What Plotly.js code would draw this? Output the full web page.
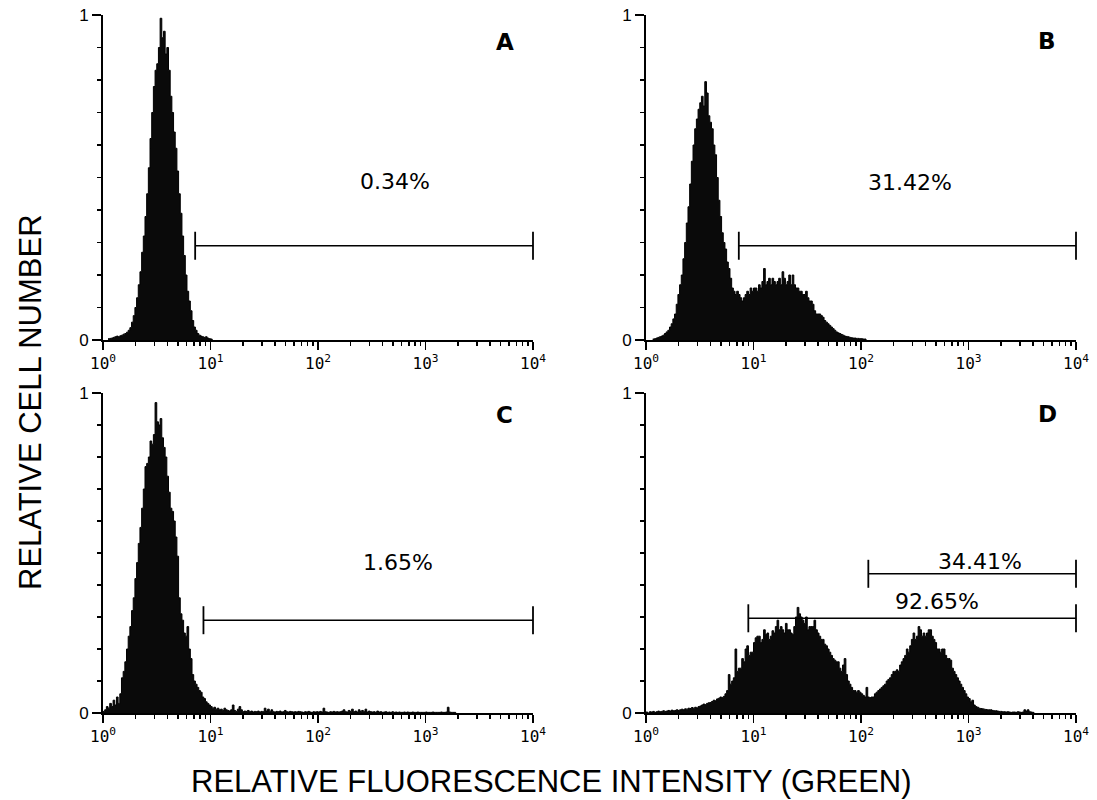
<!DOCTYPE html>
<html>
<head>
<meta charset="utf-8">
<script src="https://cdn.plot.ly/plotly-3.0.1.min.js"></script>
<style>html,body{margin:0;padding:0;background:#fff;}#chart{width:1097px;height:800px;}</style>
</head>
<body>
<div id="chart"></div>
<script>
// ---- Data (relative cell number per channel; 64 channels per decade, 10^0..10^4) ----
const CHANNELS_PER_DECADE = 64;
const panelLetters = ["A", "B", "C", "D"];
const xTickVals = [1, 10, 100, 1000, 10000];
const xTickText = ["10<sup>0</sup>", "10<sup>1</sup>", "10<sup>2</sup>", "10<sup>3</sup>", "10<sup>4</sup>"];

const startA = 3;
const countsA = [0.004,0.005,0.006,0.008,0.010,0.012,0.010,0.013,0.015,0.018,
  0.020,0.024,0.030,0.038,0.055,0.075,0.100,0.130,0.170,0.210,
  0.270,0.320,0.380,0.450,0.530,0.620,0.700,0.780,0.830,0.850,
  0.900,0.990,0.930,0.950,0.880,0.900,0.830,0.750,0.700,0.640,
  0.590,0.520,0.450,0.390,0.320,0.260,0.200,0.150,0.120,0.090,
  0.060,0.040,0.030,0.020,0.015,0.012,0.010,0.008,0.010,0.006,0.004,0.003];

const startB = 4;
const countsB = [0.003,0.004,0.006,0.008,0.010,0.012,0.015,
  0.020,0.025,0.030,0.040,0.050,0.065,0.080,0.110,0.140,0.170,
  0.200,0.250,0.300,0.360,0.410,0.480,0.550,0.600,0.650,0.680,
  0.710,0.730,0.750,0.720,0.795,0.760,0.690,0.670,0.650,0.600,
  0.570,0.500,0.430,0.380,0.330,0.300,0.280,0.240,0.220,0.190,
  0.160,0.150,0.140,0.150,0.140,0.130,0.120,0.130,0.140,0.150,
  0.140,0.160,0.150,0.160,0.160,0.150,0.170,0.160,0.180,0.220,
  0.170,0.180,0.190,0.170,0.190,0.180,0.170,0.180,0.190,0.170,
  0.210,0.190,0.170,0.180,0.200,0.170,0.200,0.170,0.160,0.160,
  0.150,0.150,0.140,0.140,0.150,0.130,0.120,0.120,0.110,0.090,
  0.080,0.080,0.080,0.075,0.070,0.060,0.055,0.050,0.045,0.040,
  0.035,0.030,0.025,0.022,0.020,0.017,0.015,0.012,0.011,0.010,
  0.008,0.007,0.006,0.006,0.005,0.005,0.004,0.004,0.003,0.003];

const startC = 0;
const countsC = [0.005,0.010,0.020,0.015,0.030,0.020,0.040,0.025,0.050,0.030,
  0.060,0.110,0.130,0.160,0.200,0.240,0.270,0.320,0.360,0.420,
  0.470,0.530,0.580,0.640,0.700,0.770,0.780,0.800,0.850,0.840,
  0.870,0.970,0.910,0.900,0.920,0.860,0.830,0.800,0.740,0.690,
  0.640,0.630,0.600,0.550,0.490,0.360,0.310,0.290,0.250,0.240,
  0.270,0.200,0.170,0.120,0.100,0.090,0.080,0.070,0.065,0.050,
  0.045,0.035,0.030,0.025,0.020,0.015,0.018,0.012,0.015,0.010,
  0.012,0.008,0.015,0.010,0.008,0.006,0.010,0.025,0.008,0.005,
  0.012,0.020,0.010,0.004,0.006,0.005,0.008,0.004,0.006,0.003,
  0.005,0.004,0.006,0.003,0.005,0.004,0.015,0.006,0.012,0.004,
  0.010,0.004,0.003,0.005,0.004,0.006,0.003,0.004,0.008,0.004,
  0.003,0.005,0.004,0.003,0.004,0.003,0.005,0.004,0.003,0.002,
  0.004,0.003,0.005,0.003,0.002,0.004,0.003,0.004,0.003,0.005,
  0.003,0.015,0.004,0.003,0.002,0.004,0.003,0.005,0.003,0.004,
  0.003,0.004,0.006,0.010,0.004,0.003,0.008,0.005,0.012,0.004,
  0.006,0.003,0.010,0.005,0.008,0.004,0.012,0.003,0.006,0.004,
  0.003,0.004,0.002,0.006,0.003,0.004,0.002,0.003,0.004,0.002,
  0.003,0.002,0.004,0.002,0.003,0.002,0.003,0.002,0.002,0.003,
  0.002,0.003,0.002,0.002,0.003,0.002,0.002,0.003,0.002,0.002,
  0.002,0.002,0.003,0.002,0.002,0.002,0.003,0.002,0.002,0.002,
  0.002,0.003,0.002,0.002,0.003,0.018,0.003,0.002,0.002,0.002];

const startD = 0;
const countsD = [0.003,0.000,0.004,0.003,0.005,0.002,0.004,0.006,0.004,0.005,
  0.007,0.005,0.006,0.008,0.006,0.009,0.007,0.008,0.010,0.008,
  0.010,0.012,0.010,0.013,0.012,0.015,0.014,0.017,0.015,0.018,
  0.016,0.020,0.022,0.025,0.028,0.026,0.030,0.032,0.033,0.036,
  0.040,0.038,0.044,0.046,0.050,0.048,0.052,0.060,0.070,0.120,
  0.090,0.100,0.110,0.200,0.130,0.140,0.140,0.170,0.160,0.200,
  0.210,0.180,0.190,0.190,0.220,0.235,0.240,0.240,0.220,0.230,
  0.260,0.245,0.250,0.230,0.240,0.257,0.250,0.270,0.290,0.260,
  0.270,0.260,0.250,0.280,0.260,0.260,0.250,0.245,0.270,0.300,
  0.330,0.310,0.300,0.290,0.280,0.300,0.260,0.270,0.270,0.270,
  0.290,0.260,0.250,0.240,0.230,0.230,0.215,0.210,0.200,0.190,
  0.180,0.170,0.165,0.160,0.160,0.140,0.130,0.150,0.170,0.120,
  0.100,0.090,0.080,0.070,0.070,0.065,0.070,0.065,0.060,0.055,
  0.050,0.080,0.050,0.048,0.050,0.050,0.060,0.065,0.070,0.075,
  0.080,0.085,0.090,0.100,0.105,0.110,0.120,0.130,0.130,0.135,
  0.130,0.150,0.160,0.170,0.180,0.200,0.190,0.210,0.230,0.250,
  0.230,0.240,0.270,0.260,0.240,0.250,0.240,0.250,0.260,0.260,
  0.240,0.230,0.220,0.200,0.200,0.190,0.200,0.200,0.180,0.170,
  0.170,0.165,0.140,0.130,0.120,0.110,0.100,0.090,0.080,0.070,
  0.060,0.050,0.045,0.035,0.040,0.025,0.020,0.018,0.015,0.014,
  0.013,0.012,0.011,0.010,0.010,0.010,0.008,0.007,0.007,0.006,
  0.005,0.005,0.004,0.004,0.003,0.004,0.003,0.002,0.003,0.003,
  0.002,0.004,0.003,0.002,0.003,0.010,0.006,0.010,0.004,0.003,0.002];

// Gate markers: low edge, high edge, height, label
const gateA_low = [7.2], gateA_high = [10000], gateA_y = [0.29], gateA_text = ["0.34%"];
const gateB_low = [7.3], gateB_high = [10000], gateB_y = [0.29], gateB_text = ["31.42%"];
const gateC_low = [8.6], gateC_high = [10000], gateC_y = [0.29], gateC_text = ["1.65%"];
const gateD_low = [117, 8.95], gateD_high = [10000, 10000], gateD_y = [0.435, 0.296], gateD_text = ["34.41%", "92.65%"];

// ---- Build traces ----
function histTrace(start, counts, ax) {
  const x = [], y = [];
  for (let i = 0; i < counts.length; i++) {
    x.push(Math.pow(10, (start + i) / CHANNELS_PER_DECADE));
    y.push(counts[i]);
  }
  x.push(Math.pow(10, (start + counts.length) / CHANNELS_PER_DECADE));
  y.push(0);
  return {
    type: "scatter", mode: "lines", x: x, y: y,
    line: {shape: "hv", color: "#000", width: 1},
    fill: "tozeroy", fillcolor: "#0a0a0a",
    xaxis: "x" + ax, yaxis: "y" + ax, hoverinfo: "skip", showlegend: false
  };
}
function gateTraces(lo, hi, yv, ax) {
  const out = [];
  for (let i = 0; i < lo.length; i++) {
    out.push({
      type: "scatter", mode: "lines+markers",
      x: [lo[i], hi[i]], y: [yv[i], yv[i]],
      line: {color: "#000", width: 1.6},
      marker: {symbol: "line-ns", size: 20, line: {color: "#000", width: 1.8}, color: "#000"},
      xaxis: "x" + ax, yaxis: "y" + ax, hoverinfo: "skip", showlegend: false,
      cliponaxis: false
    });
  }
  return out;
}
function ax(n) { return n === 1 ? "" : String(n); }

const traces = [
  histTrace(startA, countsA, ax(1)),
  histTrace(startB, countsB, ax(2)),
  histTrace(startC, countsC, ax(3)),
  histTrace(startD, countsD, ax(4)),
  ...gateTraces(gateA_low, gateA_high, gateA_y, ax(1)),
  ...gateTraces(gateB_low, gateB_high, gateB_y, ax(2)),
  ...gateTraces(gateC_low, gateC_high, gateC_y, ax(3)),
  ...gateTraces(gateD_low, gateD_high, gateD_y, ax(4))
];

// ---- Axes ----
const minorX = [];
for (let d = 0; d < 4; d++) for (let k = 2; k <= 9; k++) minorX.push(k * Math.pow(10, d));
const minorY = [0.1, 0.2, 0.3, 0.4, 0.5, 0.6, 0.7, 0.8, 0.9];

function xAxis(domain, anchor) {
  return {
    domain: domain, anchor: anchor, type: "log", range: [0, 4], autorange: false,
    tickmode: "array", tickvals: xTickVals, ticktext: xTickText,
    ticks: "outside", ticklen: 8, tickwidth: 1.6, tickcolor: "#000",
    showline: true, linewidth: 2, linecolor: "#000",
    showgrid: false, zeroline: false,
    tickfont: {family: "DejaVu Sans Mono", size: 16, color: "#000"},
    fixedrange: true
  };
}
function yAxis(domain, anchor) {
  return {
    domain: domain, anchor: anchor, range: [0, 1], autorange: false,
    tickmode: "array", tickvals: [0, 1], ticktext: ["0", "1"],
    ticks: "outside", ticklen: 9, tickwidth: 1.6, tickcolor: "#000",
    showline: true, linewidth: 2, linecolor: "#000",
    showgrid: false, zeroline: false,
    tickfont: {family: "Liberation Sans", size: 17, color: "#000"},
    fixedrange: true
  };
}
// overlay axes that carry the minor ticks
function xMinor(base, anchor) {
  return {
    overlaying: base, anchor: anchor, type: "log", range: [0, 4], autorange: false,
    tickmode: "array", tickvals: minorX, ticktext: minorX.map(() => ""),
    ticks: "outside", ticklen: 5, tickwidth: 1.5, tickcolor: "#000",
    showline: false, showgrid: false, zeroline: false, fixedrange: true
  };
}
function yMinor(base, anchor) {
  return {
    overlaying: base, anchor: anchor, range: [0, 1], autorange: false,
    tickmode: "array", tickvals: minorY, ticktext: minorY.map(() => ""),
    ticks: "outside", ticklen: 5, tickwidth: 1.5, tickcolor: "#000",
    showline: false, showgrid: false, zeroline: false, fixedrange: true
  };
}
for (let p = 1; p <= 4; p++) {
  traces.push({type: "scatter", mode: "markers", x: [], y: [], xaxis: "x" + (p + 4), yaxis: "y" + (p + 4),
    hoverinfo: "skip", showlegend: false});
}

const W = 1097, H = 800;
const colL = [103 / W, 533 / W], colR = [646 / W, 1076 / W];
const rowT = [(H - 340) / H, (H - 15) / H], rowB = [(H - 713) / H, (H - 393) / H];

const annFontPct = {family: "DejaVu Sans", size: 22, color: "#000"};
const annFontLetter = {family: "DejaVu Sans", size: 23, color: "#000", weight: "bold"};
function pa(px, py, text, font, extra) {
  return Object.assign({xref: "paper", yref: "paper", x: px / W, y: 1 - py / H, text: text,
    showarrow: false, font: font, xanchor: "center", yanchor: "middle"}, extra || {});
}

const annotations = [
  pa(505, 42, "<b>" + panelLetters[0] + "</b>", annFontLetter),
  pa(1047, 41, "<b>" + panelLetters[1] + "</b>", annFontLetter),
  pa(504, 415, "<b>" + panelLetters[2] + "</b>", annFontLetter),
  pa(1047, 414, "<b>" + panelLetters[3] + "</b>", annFontLetter),
  pa(395, 181, gateA_text[0], annFontPct),
  pa(910, 182, gateB_text[0], annFontPct),
  pa(398, 562, gateC_text[0], annFontPct),
  pa(980, 561, gateD_text[0], annFontPct),
  pa(937, 601, gateD_text[1], annFontPct),
  pa(31, 402, "RELATIVE CELL NUMBER", {family: "Liberation Sans", size: 31, color: "#000"}, {textangle: -90}),
  pa(551, 781, "RELATIVE FLUORESCENCE INTENSITY (GREEN)", {family: "Liberation Sans", size: 31, color: "#000"})
];

const layout = {
  width: W, height: H,
  margin: {l: 0, r: 0, t: 0, b: 0},
  paper_bgcolor: "#fff", plot_bgcolor: "#fff",
  showlegend: false,
  xaxis: xAxis(colL, "y"), yaxis: yAxis(rowT, "x"),
  xaxis2: xAxis(colR, "y2"), yaxis2: yAxis(rowT, "x2"),
  xaxis3: xAxis(colL, "y3"), yaxis3: yAxis(rowB, "x3"),
  xaxis4: xAxis(colR, "y4"), yaxis4: yAxis(rowB, "x4"),
  xaxis5: xMinor("x", "y"), yaxis5: yMinor("y", "x"),
  xaxis6: xMinor("x2", "y2"), yaxis6: yMinor("y2", "x2"),
  xaxis7: xMinor("x3", "y3"), yaxis7: yMinor("y3", "x3"),
  xaxis8: xMinor("x4", "y4"), yaxis8: yMinor("y4", "x4"),
  annotations: annotations
};

Plotly.newPlot("chart", traces, layout, {displayModeBar: false, staticPlot: true});
</script>
</body>
</html>
